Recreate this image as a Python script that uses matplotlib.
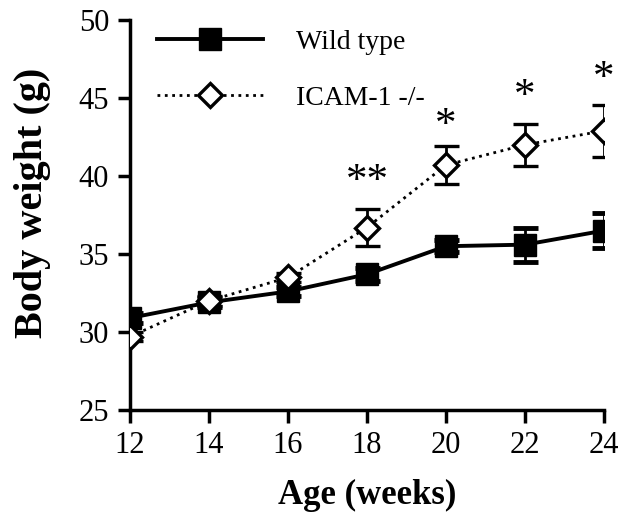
import numpy as np
import matplotlib
matplotlib.use("Agg")
import matplotlib.pyplot as plt
from matplotlib.lines import Line2D

# ── Data ────────────────────────────────────────────────────────────────────
age        = [12, 14, 16, 18, 20, 22, 24]
wt_mean    = [30.9, 31.9, 32.6, 33.7, 35.5, 35.6, 36.5]
wt_err     = [0.3, 0.3, 0.3, 0.4, 0.4, 1.1, 1.1]
icam_mean  = [29.7, 32.0, 33.5, 36.7, 40.7, 42.0, 42.9]
icam_err   = [0.3, 0.3, 0.3, 1.2, 1.2, 1.35, 1.65]
star_age   = [18, 20, 22, 24]
star_text  = ["**", "*", "*", "*"]
star_y     = [40.2, 43.8, 45.6, 46.8]

plt.rcParams['font.family'] = ['Liberation Serif', 'DejaVu Serif']

fig = plt.figure(figsize=(6.22, 5.20), dpi=100)
ax = fig.add_axes([0.209, 0.2115, 0.762, 0.75])

ax.errorbar(age, wt_mean, yerr=wt_err, color='black', lw=2.8,
            marker='s', ms=16.5, mfc='black', mec='black',
            capsize=9, capthick=3.5, elinewidth=2, zorder=3)
ax.errorbar(age, icam_mean, yerr=icam_err, color='black', lw=2, ls=':',
            marker='D', ms=12.5, mfc='white', mec='black', mew=2.4,
            capsize=9, capthick=3.5, elinewidth=2, zorder=4)

# significance marks (shifted down a little: '*' sits high in its box)
for x, y, s in zip(star_age, star_y, star_text):
    ax.text(x, y - 0.55, s, ha='center', va='center', fontsize=31)

ax.set_xlim(12, 24)
ax.set_ylim(25, 50)
ax.set_xticks(age)
ax.set_yticks([25, 30, 35, 40, 45, 50])
ax.spines['top'].set_visible(False)
ax.spines['right'].set_visible(False)
ax.spines['left'].set_linewidth(2.5)
ax.spines['bottom'].set_linewidth(2.5)
ax.tick_params(direction='out', length=9, width=2.5, labelsize=22, pad=6)

ax.set_xlabel("Age (weeks)", fontsize=25, fontweight='bold', labelpad=14)
ax.set_ylabel("Body weight (g)", fontsize=29, fontweight='bold',
              va='center')
ax.yaxis.set_label_coords(-0.205, 0.53)

handles = [
    Line2D([], [], color='black', lw=2.8, marker='s', ms=16.5),
    Line2D([], [], color='black', lw=2, ls=':', marker='D', ms=12.5,
           mfc='white', mew=2.4),
]
ax.legend(handles, ["Wild type", "ICAM-1 -/-"], loc='upper left',
          frameon=False, fontsize=20, handlelength=3.8, labelspacing=1.1,
          handletextpad=1.2, borderpad=0, borderaxespad=0,
          bbox_to_anchor=(0.057, 0.975))

fig.savefig("out.png", dpi=100)
